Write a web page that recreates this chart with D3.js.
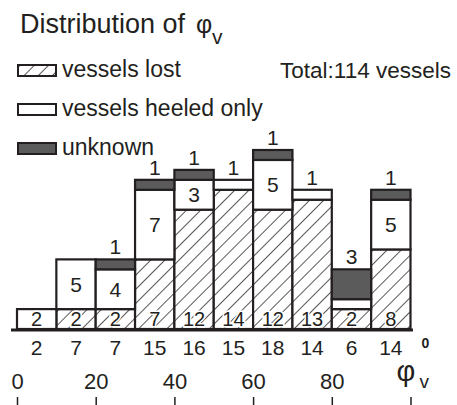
<!DOCTYPE html>
<html>
<head>
<meta charset="utf-8">
<script src="https://cdn.jsdelivr.net/npm/d3@7"></script>
<style>
  body { margin: 0; background: #fff; }
  text { font-family: "Liberation Sans", Arial, sans-serif; fill: #231f20; }
</style>
</head>
<body>
<div id="chart"></div>
<script>
// bins of phi_v (degrees), 10 wide each
var binStart = [0, 10, 20, 30, 40, 50, 60, 70, 80, 90];
var lost     = [0, 2, 2, 7, 12, 14, 12, 13, 2, 8];
var heeled   = [2, 5, 4, 7, 3, 1, 5, 1, 1, 5];
var unknown  = [0, 0, 1, 1, 1, 0, 1, 0, 3, 1];
var totals   = [2, 7, 7, 15, 16, 15, 18, 14, 6, 14];
var tickValues = [0, 20, 40, 60, 80, 100];

var w = 457, h = 405;
var ink = "#231f20";
var gray = "#5b5b5b";

var svg = d3.select("#chart").append("svg")
    .attr("width", w)
    .attr("height", h);

// hatch pattern for "vessels lost"
var defs = svg.append("defs");
var pat = defs.append("pattern")
    .attr("id", "hatch")
    .attr("patternUnits", "userSpaceOnUse")
    .attr("width", 10)
    .attr("height", 10)
    .attr("patternTransform", "rotate(45)");
pat.append("rect").attr("width", 10).attr("height", 10).attr("fill", "#fff");
pat.append("line")
    .attr("x1", 0).attr("y1", 0).attr("x2", 0).attr("y2", 10)
    .attr("stroke", ink).attr("stroke-width", 1.5);

var x = d3.scaleLinear().domain([0, 100]).range([17, 410.5]);
var y = d3.scaleLinear().domain([0, 18]).range([329, 150]);

// stacked segments: lost (bottom), heeled, unknown (top)
var rows = binStart.map(function(b, i) {
    return { bin: b, lost: lost[i], heeled: heeled[i], unknown: unknown[i], total: totals[i] };
});
var stack = d3.stack().keys(["lost", "heeled", "unknown"]);
var series = stack(rows);
var fills = { lost: "url(#hatch)", heeled: "#fff", unknown: gray };

series.forEach(function(s) {
    svg.append("g")
        .selectAll("rect")
        .data(s.filter(function(d) { return d[1] > d[0]; }))
        .enter()
        .append("rect")
        .attr("x", function(d) { return x(d.data.bin); })
        .attr("y", function(d) { return y(d[1]); })
        .attr("width", function(d) { return x(d.data.bin + 10) - x(d.data.bin); })
        .attr("height", function(d) { return y(d[0]) - y(d[1]); })
        .attr("fill", fills[s.key])
        .attr("stroke", ink)
        .attr("stroke-width", 2.2);
});

function cx(d) { return x(d.bin + 5); }

// bottom-row labels (first segment)
svg.append("g")
    .selectAll("text")
    .data(rows)
    .enter()
    .append("text")
    .attr("x", cx)
    .attr("y", y(0) - 3)
    .attr("text-anchor", "middle")
    .attr("font-size", 20)
    .attr("stroke", "#fff")
    .attr("stroke-width", 3)
    .attr("paint-order", "stroke")
    .text(function(d) { return d.lost > 0 ? d.lost : d.heeled; });

// heeled labels inside the white box (when lost is underneath)
svg.append("g")
    .selectAll("text")
    .data(rows.filter(function(d) { return d.lost > 0 && d.heeled >= 2; }))
    .enter()
    .append("text")
    .attr("x", cx)
    .attr("y", function(d) { return y(d.lost + d.heeled / 2); })
    .attr("dy", "0.36em")
    .attr("text-anchor", "middle")
    .attr("font-size", 21)
    .text(function(d) { return d.heeled; });

// labels above the bars: unknown count, or a single heeled vessel
svg.append("g")
    .selectAll("text")
    .data(rows.filter(function(d) { return d.unknown > 0 || (d.heeled === 1 && d.lost > 0); }))
    .enter()
    .append("text")
    .attr("x", cx)
    .attr("y", function(d) { return y(d.total) - 5; })
    .attr("text-anchor", "middle")
    .attr("font-size", 21)
    .text(function(d) { return d.unknown > 0 ? d.unknown : d.heeled; });

// base line
svg.append("line")
    .attr("x1", 11).attr("x2", 413)
    .attr("y1", 330).attr("y2", 330)
    .attr("stroke", ink)
    .attr("stroke-width", 3);

// totals per bin
svg.append("g")
    .selectAll("text")
    .data(rows)
    .enter()
    .append("text")
    .attr("x", cx)
    .attr("y", 355)
    .attr("text-anchor", "middle")
    .attr("font-size", 21)
    .text(function(d) { return d.total; });

// lower angle axis
var axis = d3.axisTop(x)
    .tickValues(tickValues)
    .tickSize(8)
    .tickPadding(8)
    .tickFormat(function(d) { return d === 100 ? "" : d; });
var gx = svg.append("g")
    .attr("transform", "translate(0,405)")
    .call(axis);
gx.select(".domain").remove();
gx.selectAll(".tick line").attr("stroke", ink).attr("stroke-width", 1.5);
gx.selectAll(".tick text")
    .attr("font-size", 22)
    .attr("font-family", "Liberation Sans, Arial, sans-serif")
    .attr("fill", ink);

// phi_v degree label
svg.append("text")
    .attr("x", x(100) - 14)
    .attr("y", 381)
    .attr("font-size", 29)
    .text("φ");
svg.append("text").attr("x", x(100) + 11).attr("y", 348)
    .attr("font-size", 14).attr("font-weight", "bold").text("0");
svg.append("text").attr("x", x(100) + 9).attr("y", 388)
    .attr("font-size", 19).text("v");

// title
var title = svg.append("text")
    .attr("x", 20)
    .attr("y", 33)
    .attr("font-size", 27);
title.append("tspan").text("Distribution of ");
title.append("tspan").attr("x", 196).attr("font-size", 25).text("φ");
title.append("tspan").attr("x", 212).attr("y", 44).attr("font-size", 21).text("v");

svg.append("text")
    .attr("x", 451)
    .attr("y", 78)
    .attr("text-anchor", "end")
    .attr("font-size", 22.5)
    .text("Total:114 vessels");

// legend
var legend = [
    { label: "vessels lost", fill: "url(#hatch)", y: 65 },
    { label: "vessels heeled only", fill: "#fff", y: 104 },
    { label: "unknown", fill: gray, y: 143 }
];
var lg = svg.append("g")
    .selectAll("g")
    .data(legend)
    .enter()
    .append("g");
lg.append("rect")
    .attr("x", 18)
    .attr("y", function(d) { return d.y; })
    .attr("width", 38)
    .attr("height", 11)
    .attr("fill", function(d) { return d.fill; })
    .attr("stroke", ink)
    .attr("stroke-width", 2);
lg.append("text")
    .attr("x", 62)
    .attr("y", function(d) { return d.y + 12; })
    .attr("font-size", 23)
    .text(function(d) { return d.label; });
</script>
</body>
</html>
